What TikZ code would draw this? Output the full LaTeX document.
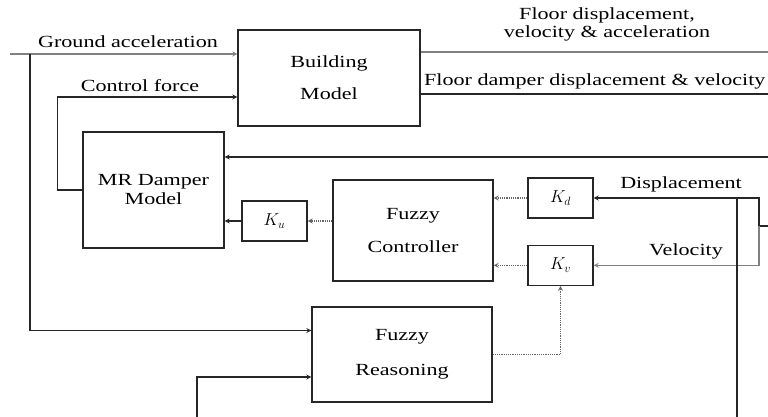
\documentclass[tikz,border=0pt]{standalone}
\usepackage{amsmath,amssymb}
\usepackage{xcolor}
\usepackage{fontspec}
\setmainfont[FakeStretch=1.3]{Liberation Serif}
\usetikzlibrary{shapes,arrows,positioning,fit,backgrounds}

\begin{document}
\begin{tikzpicture}[
    x=1pt, y=-1pt,
    node distance=26pt,
    block/.style={rectangle, draw=black!85, line width=1.3pt, align=center, inner sep=0pt, font=\fontsize{17}{20}\selectfont},
    gain/.style={block, minimum width=65pt, minimum height=40pt},
    txt/.style={inner sep=0pt, align=center, font=\fontsize{17}{18}\selectfont},
    wire/.style={line width=1.2pt, draw=black!85},
    arrow/.style={wire, ->, >=stealth},
    faint/.style={arrow, draw=black!50},
    dotline/.style={arrow, draw=black!60, densely dotted}
]
\path[use as bounding box, fill=white] (0,0) rectangle (768,417);

\node[block, minimum width=182pt, minimum height=96pt] (building) at (329,78) {Building\\[12pt]Model};
\node[block, minimum width=141pt, minimum height=116pt] (damper) at (153.5,190) {MR Damper\\[-1pt]Model};
\node[gain] (ku) at (274.5,221) {$K_u$};
\node[block, minimum width=160pt, minimum height=101pt] (fc) at (413,230.5) {Fuzzy\\[13pt]Controller};
\node[gain] (kd) at (560.5,198) {$K_d$};
\node[gain, below=of kd] (kv) {$K_v$};
\node[block, minimum width=180pt, minimum height=95pt] (fr) at (402,354.5) {Fuzzy\\[15pt]Reasoning};

\node[txt] (gacc) at (128,42) {Ground acceleration};
\node[txt] (cforce) at (140,86) {Control force};
\node[txt] (fdisp) at (607,24) {Floor displacement,\\velocity \& acceleration};
\node[txt, anchor=west] (fdamp) at (424,81) {Floor damper displacement \& velocity};
\node[txt] (disp) at (681,184) {Displacement};
\node[txt] (vel) at (686,251) {Velocity};

\coordinate (gin) at (10,54);
\coordinate (gsplit) at (30,54);
\coordinate (fout1) at (768,52);
\coordinate (fout2) at (768,94);
\coordinate (rfeed) at (768,157);
\coordinate (sfeed) at (768,226);
\coordinate (sjoin) at (759,226);
\coordinate (bot1) at (737,417);
\coordinate (bot2) at (197,417);

\draw[faint] (gin) -- (gin -| building.west);
\draw[arrow] (gsplit) |- ([yshift=24pt]fr.west);
\draw[arrow] (damper.west) -- ++(-25,0) |- ([yshift=-19pt]building.west);
\draw[faint, -] ([yshift=26pt]building.east) -- (fout1);
\draw[wire] ([yshift=-16pt]building.east) -- (fout2);
\draw[arrow] (rfeed) -- (rfeed -| damper.east);
\draw[arrow] (ku.west) -- (ku.west -| damper.east);
\draw[dotline] (fc.west |- ku) -- (ku.east);
\draw[dotline] (kd.west) -- (kd.west -| fc.east);
\draw[dotline] (kv.west) -- (kv.west -| fc.east);
\draw[wire] (sfeed) -- (sjoin);
\draw[arrow] (sjoin) |- (kd.east);
\draw[faint] (sjoin) |- (kv.east);
\draw[wire] (bot1 |- kd) -- (bot1);
\draw[arrow] (bot2) |- ([yshift=-22.5pt]fr.west);
\draw[dotline] (fr.east) -| (kv.south);
\end{tikzpicture}
\end{document}
